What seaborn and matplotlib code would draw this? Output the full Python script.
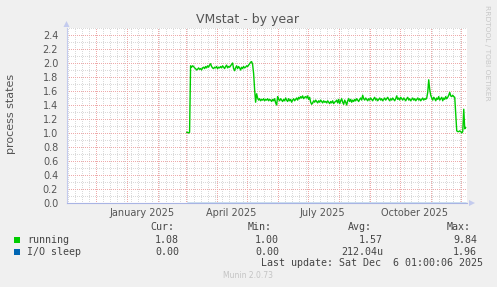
import numpy as np
import pandas as pd
import matplotlib
matplotlib.use("Agg")
import matplotlib.pyplot as plt
import matplotlib.dates as mdates
from matplotlib.ticker import MultipleLocator, FormatStrFormatter, NullFormatter
from matplotlib.patches import Rectangle, Polygon
import seaborn as sns

# ---------------- data ----------------
start_date = "2025-03-02"
run_start = [1.01, 1.01, 1.00, 1.01]
run_high = [1.96, 1.94, 1.96, 1.95, 1.93,
            1.92, 1.90, 1.91, 1.93, 1.91, 1.92, 1.90,
            1.93, 1.94, 1.92, 1.95, 1.93, 1.96, 1.94, 1.97,
            1.99,
            1.95, 1.93, 1.92, 1.94, 1.93, 1.95, 1.92, 1.94, 1.93,
            1.95, 1.93, 1.96, 1.94, 1.92, 1.95, 1.97, 1.93, 1.95, 1.94, 1.96, 1.98,
            2.00,
            1.92, 1.89, 1.93, 1.96, 1.92, 1.95, 1.93,
            1.90, 1.94, 1.92, 1.95, 1.93, 1.94, 1.96, 1.95, 1.97, 1.99,
            2.01, 2.02, 1.98]
run_drop = [1.85, 1.62, 1.44]
run_mid = [1.56, 1.50, 1.47, 1.49, 1.46, 1.48, 1.47, 1.49, 1.46, 1.48,
           1.47, 1.49, 1.46, 1.48, 1.47, 1.45, 1.48, 1.46, 1.49, 1.43,
           1.40, 1.52, 1.48, 1.46, 1.49, 1.47, 1.45, 1.48, 1.46, 1.50,
           1.47, 1.45, 1.49, 1.46, 1.48, 1.44, 1.47, 1.49, 1.46, 1.48,
           1.50, 1.47, 1.51, 1.49, 1.52, 1.50, 1.53, 1.49, 1.51, 1.52,
           1.50, 1.53, 1.48, 1.51, 1.44, 1.41, 1.43, 1.46, 1.44, 1.47,
           1.45, 1.43, 1.46, 1.44, 1.47, 1.45, 1.43, 1.46, 1.44, 1.45,
           1.43, 1.46, 1.44, 1.42, 1.45, 1.43, 1.46, 1.42, 1.44, 1.45,
           1.47, 1.43, 1.48, 1.42, 1.46, 1.49, 1.44, 1.41, 1.47, 1.44,
           1.40, 1.46, 1.49, 1.45, 1.48, 1.44, 1.47, 1.45, 1.48, 1.46,
           1.49, 1.47, 1.45, 1.48, 1.50, 1.47, 1.54, 1.49, 1.47, 1.50,
           1.48, 1.46, 1.49, 1.47, 1.50, 1.48, 1.46, 1.49, 1.51, 1.47,
           1.49, 1.46, 1.48, 1.50, 1.47, 1.49, 1.46, 1.48, 1.50, 1.47,
           1.49, 1.51, 1.48, 1.46, 1.49, 1.47, 1.50, 1.48, 1.46, 1.49,
           1.53, 1.48, 1.50, 1.47, 1.51, 1.49, 1.47, 1.50, 1.48, 1.46,
           1.49, 1.51, 1.47, 1.49, 1.46, 1.48, 1.50, 1.47, 1.49, 1.46,
           1.48, 1.50, 1.47, 1.49, 1.46, 1.48, 1.50, 1.47, 1.49, 1.48,
           1.50, 1.58]
run_spike = [1.76]
run_late = [1.62, 1.54, 1.50, 1.47, 1.51, 1.49, 1.46, 1.50, 1.48, 1.52,
            1.47, 1.49, 1.51, 1.46, 1.50, 1.48, 1.52, 1.49, 1.51, 1.54,
            1.58, 1.53, 1.52, 1.54, 1.52, 1.51]
run_end = [1.28, 1.03, 1.02, 1.02, 1.03, 1.02, 1.00, 1.02, 1.34, 1.06, 1.08]
running = run_start + run_high + run_drop + run_mid + run_spike + run_late + run_end
io_sleep = [0.0] * len(running)

xtick_labels = ["January 2025", "April 2025", "July 2025", "October 2025"]
xtick_dates = ["2025-01-16", "2025-04-16", "2025-07-16", "2025-10-16"]

legend_names = ["running", "I/O sleep"]
legend_colors = ["#00cc00", "#0066b3"]
cur_vals = ["1.08", "0.00"]
min_vals = ["1.00", "0.00"]
avg_vals = ["1.57", "212.04u"]
max_vals = ["9.84", "1.96"]

# ---------------- figure ----------------
sns.set_style("white")
plt.rcParams["font.family"] = ["DejaVu Sans"]

W, H = 497, 287
fig = plt.figure(figsize=(W / 100, H / 100), dpi=100, facecolor="#f0f0f0")
L, R, T, B = 66.5, 467, 28, 203
ax = fig.add_axes([L / W, 1 - B / H, (R - L) / W, (B - T) / H])
ax.set_facecolor("white")

dates = pd.date_range(start_date, periods=len(running), freq="D")
df = pd.DataFrame({"date": dates, "running": running, "io": io_sleep})
sns.lineplot(data=df, x="date", y="running", color=legend_colors[0], lw=1.0, ax=ax)
sns.lineplot(data=df, x="date", y="io", color=legend_colors[1], lw=1.0, ax=ax)

ax.set_xlim(pd.Timestamp("2024-11-02"), pd.Timestamp("2025-12-07 06:00"))
ax.set_ylim(0, 2.5)
ax.set_xlabel("")
ax.set_ylabel("")

ax.xaxis.set_major_locator(mdates.MonthLocator())
ax.xaxis.set_minor_locator(mdates.WeekdayLocator(byweekday=mdates.SU))
ax.xaxis.set_major_formatter(NullFormatter())
ax.yaxis.set_major_locator(MultipleLocator(0.2))
ax.yaxis.set_minor_locator(MultipleLocator(0.1))
ax.yaxis.set_major_formatter(FormatStrFormatter("%.1f"))

dots = (0, (1, 1.4))
ax.grid(which="minor", color="#dadada", linestyle=dots, linewidth=0.72, antialiased=False)
ax.grid(which="major", color="#eeaaaa", linestyle=dots, linewidth=0.72, antialiased=False)
ax.set_axisbelow(True)

ax.tick_params(axis="y", which="major", length=2, width=0.72, color="#eeaaaa",
               labelsize=7, labelcolor="#555555", pad=4)
ax.tick_params(axis="y", which="minor", length=2, width=0.72, color="#dadada")
ax.tick_params(axis="x", which="major", length=2, width=0.72, color="#eeaaaa")
ax.tick_params(axis="x", which="minor", length=2, width=0.72, color="#dadada")

for s in ["top", "right"]:
    ax.spines[s].set_visible(False)
ax.spines["left"].set_color("#c4cbee")
ax.spines["bottom"].set_color("#a9b4e4")
ax.spines["left"].set_linewidth(0.8)
ax.spines["bottom"].set_linewidth(0.8)

for d, lab in zip(xtick_dates, xtick_labels):
    ax.text(mdates.date2num(pd.Timestamp(d)), -9.7 / (B - T), lab,
            transform=ax.get_xaxis_transform(), ha="center", va="center",
            fontsize=7, color="#555555")

def fx(x):
    return x / W

def fy(y):
    return 1 - y / H

# arrows
fig.add_artist(Polygon([(fx(L - 3), fy(27)), (fx(L + 3), fy(27)), (fx(L), fy(21))],
                       closed=True, transform=fig.transFigure, color="#c4cbee", lw=0))
fig.add_artist(Polygon([(fx(469), fy(B - 3)), (fx(469), fy(B + 3)), (fx(475), fy(B))],
                       closed=True, transform=fig.transFigure, color="#c4cbee", lw=0))

# title and axis label
fig.text(fx(248), fy(19), "VMstat - by year", ha="center", va="center",
         fontsize=9, color="#555555")
fig.text(fx(11), fy(114), "process states", ha="center", va="center",
         rotation=90, fontsize=8, color="#555555")
fig.text(fx(487.5), fy(53), "RRDTOOL / TOBI OETIKER", ha="center", va="center",
         rotation=270, fontsize=5.4, color="#c8c8c8")

# legend
mono = dict(family="DejaVu Sans Mono", fontsize=7.2, color="#444444", va="center")
for x0, h in zip([150, 248, 348, 447], ["Cur:", "Min:", "Avg:", "Max:"]):
    fig.text(fx(x0), fy(227), h, ha="left", **mono)
rows_y = [240, 252]
for i, name in enumerate(legend_names):
    y = rows_y[i]
    fig.add_artist(Rectangle((fx(14), fy(y + 3)), 6 / W, 6 / H,
                             transform=fig.transFigure, color=legend_colors[i], lw=0))
    fig.text(fx(27), fy(y), name, ha="left", **mono)
    fig.text(fx(179), fy(y), cur_vals[i], ha="right", **mono)
    fig.text(fx(279), fy(y), min_vals[i], ha="right", **mono)
    fig.text(fx(383), fy(y), avg_vals[i], ha="right", **mono)
    fig.text(fx(477), fy(y), max_vals[i], ha="right", **mono)
fig.text(fx(483), fy(263), "Last update: Sat Dec  6 01:00:06 2025", ha="right", **mono)
fig.text(fx(248), fy(276), "Munin 2.0.73", ha="center", va="center",
         fontsize=5.5, color="#c4c4c4")

fig.savefig("out.png", dpi=100, facecolor=fig.get_facecolor())
